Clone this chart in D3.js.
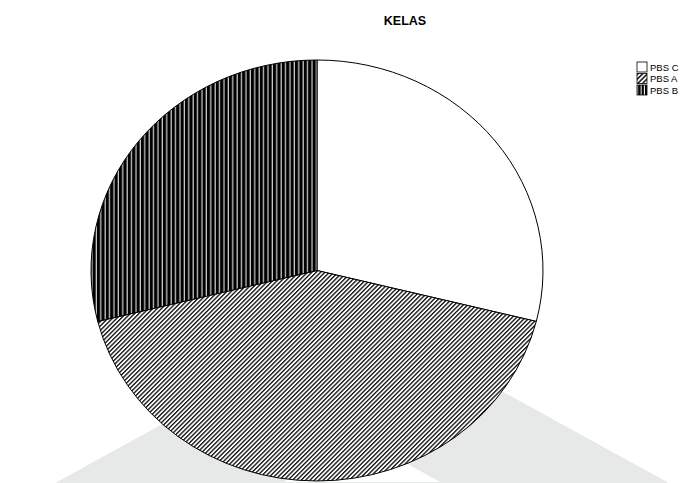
<!DOCTYPE html>
<html>
<head>
<meta charset="utf-8">
<script src="https://cdn.jsdelivr.net/npm/d3@7"></script>
<style>
  html, body { margin: 0; padding: 0; background: #ffffff; }
  svg { display: block; font-family: Arial, "Liberation Sans", sans-serif; }
</style>
</head>
<body>
<div id="chart"></div>
<script>
// Class distribution (counts per class)
const categories = ["PBS C", "PBS A", "PBS B"];
const counts = [13, 19, 13];
const title = "KELAS";

const width = 694, height = 483;
const cx = 317, cy = 270.5, rx = 226, ry = 210.5;
const sx = rx / ry;

const svg = d3.select("#chart").append("svg")
  .attr("width", width).attr("height", height);

const defs = svg.append("defs");

// Slice fills (the pie group is stretched horizontally by sx, so
// patterns undo that stretch to keep hatch angles true)
const diag = defs.append("pattern")
  .attr("id", "hatchDiag").attr("patternUnits", "userSpaceOnUse")
  .attr("width", 3.1).attr("height", 3.1)
  .attr("patternTransform", `scale(${1 / sx},1) rotate(45)`);
diag.append("rect").attr("width", 3.1).attr("height", 3.1).attr("fill", "#fff");
diag.append("rect").attr("x", 0).attr("width", 1.35).attr("height", 3.1).attr("fill", "#111");

const vert = defs.append("pattern")
  .attr("id", "hatchVert").attr("patternUnits", "userSpaceOnUse")
  .attr("width", 4.4).attr("height", 4)
  .attr("patternTransform", `scale(${1 / sx},1)`);
vert.append("rect").attr("width", 4.4).attr("height", 4).attr("fill", "#000");
vert.append("rect").attr("x", 3.2).attr("width", 1.1).attr("height", 4).attr("fill", "#e8e8e8");

// Legend swatch fills (coarser)
const lDiag = defs.append("pattern")
  .attr("id", "legDiag").attr("patternUnits", "userSpaceOnUse")
  .attr("width", 3.4).attr("height", 3.4)
  .attr("patternTransform", "rotate(45)");
lDiag.append("rect").attr("width", 3.4).attr("height", 3.4).attr("fill", "#fff");
lDiag.append("rect").attr("width", 1.5).attr("height", 3.4).attr("fill", "#111");

const lVert = defs.append("pattern")
  .attr("id", "legVert").attr("patternUnits", "userSpaceOnUse")
  .attr("x", 637).attr("width", 3.4).attr("height", 4);
lVert.append("rect").attr("width", 3.4).attr("height", 4).attr("fill", "#000");
lVert.append("rect").attr("x", 2.4).attr("width", 1).attr("height", 4).attr("fill", "#fff");

const fills = d3.scaleOrdinal().domain(categories)
  .range(["#ffffff", "url(#hatchDiag)", "url(#hatchVert)"]);
const legendFills = d3.scaleOrdinal().domain(categories)
  .range(["#ffffff", "url(#legDiag)", "url(#legVert)"]);

// Light grey backdrop shape behind the pie
svg.append("path")
  .attr("d", "M57,482 L362,314.3 L667,482 L672,490 L52,490 Z M283,482 L362,438.6 L440,482 Z")
  .attr("fill", "#e6e9e8")
  .attr("fill-rule", "evenodd");

// Pie
const pie = d3.pie().sort(null).value(d => d.value);
const arc = d3.arc().innerRadius(0).outerRadius(ry);
const data = categories.map((c, i) => ({ name: c, value: counts[i] }));

const g = svg.append("g")
  .attr("transform", `translate(${cx},${cy}) scale(${sx},1)`);

g.selectAll("path.slice")
  .data(pie(data))
  .join("path")
  .attr("class", "slice")
  .attr("d", arc)
  .attr("fill", d => fills(d.data.name))
  .attr("stroke", "#000")
  .attr("stroke-width", 1)
  .attr("vector-effect", "non-scaling-stroke");

// Title
svg.append("text")
  .attr("x", 405).attr("y", 25)
  .attr("text-anchor", "middle")
  .attr("font-size", 12.5).attr("font-weight", "bold")
  .attr("fill", "#000")
  .text(title);

// Legend
const legend = svg.append("g");
const rows = legend.selectAll("g")
  .data(categories)
  .join("g")
  .attr("transform", (d, i) => `translate(637,${62 + i * 11.5})`);
rows.append("rect")
  .attr("width", 10).attr("height", 10)
  .attr("fill", d => legendFills(d))
  .attr("stroke", "#000").attr("stroke-width", 0.8);
rows.append("text")
  .attr("x", 13).attr("y", 8.8)
  .attr("font-size", 9.5).attr("fill", "#000")
  .text(d => d);
</script>
</body>
</html>
